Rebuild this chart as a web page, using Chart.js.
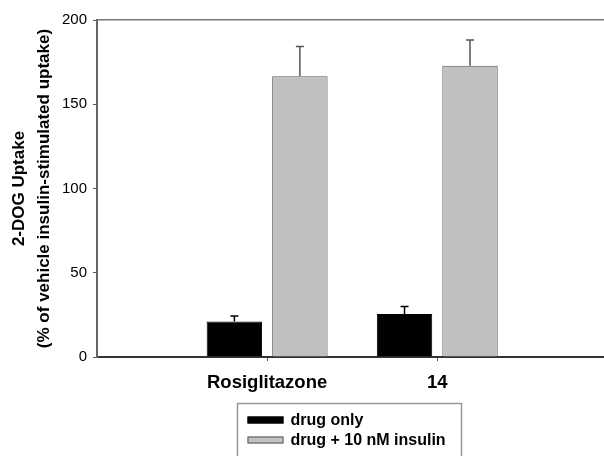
<!DOCTYPE html>
<html>
<head>
<meta charset="utf-8">
<script src="https://cdn.jsdelivr.net/npm/chart.js@4.4.0/dist/chart.umd.min.js"></script>
<style>
  html, body { margin: 0; padding: 0; background: #fff; }
  #wrap { width: 604px; height: 456px; position: relative; }
</style>
</head>
<body>
<div id="wrap"><canvas id="c" width="604" height="456"></canvas></div>
<script>
// ---- data ----
const categories = ['Rosiglitazone', '14'];
const seriesNames = ['drug only', 'drug + 10 nM insulin'];
const drugOnly = [21, 25.5];
const drugOnlyErr = [3.3, 4.5];
const drugInsulin = [166.6, 172.9];
const drugInsulinErr = [17.6, 15.2];
const yTicks = [0, 50, 100, 150, 200];
const yTitle = ['2-DOG Uptake', '(% of vehicle insulin-stimulated uptake)'];

const FONT = 'Liberation Sans, Arial, Helvetica, sans-serif';
Chart.defaults.font.family = FONT;
Chart.defaults.color = '#000';

const toPoints = (vals) => vals.map((v, i) => ({ x: i + 1, y: v }));

const errorBars = {
  id: 'errorBars',
  afterDatasetsDraw(chart) {
    const ctx = chart.ctx;
    const yScale = chart.scales.y;
    chart.data.datasets.forEach((ds, di) => {
      const meta = chart.getDatasetMeta(di);
      meta.data.forEach((bar, i) => {
        const v = ds.data[i].y;
        const e = ds.errors[i];
        const yTop = yScale.getPixelForValue(v + e);
        ctx.save();
        ctx.strokeStyle = ds.errorColor;
        ctx.lineWidth = 1.5;
        ctx.beginPath();
        ctx.moveTo(bar.x, bar.y);
        ctx.lineTo(bar.x, yTop);
        ctx.moveTo(bar.x - 4, yTop);
        ctx.lineTo(bar.x + 4, yTop);
        ctx.stroke();
        ctx.restore();
      });
    });
  }
};

const boxLegend = {
  id: 'boxLegend',
  afterDraw(chart) {
    const ctx = chart.ctx;
    const ca = chart.chartArea;
    const bw = 224;
    const bx = Math.round((ca.left + ca.right) / 2 - bw / 2) - 1.5;
    const by = chart.scales.x.bottom + 6.5;
    ctx.save();
    ctx.strokeStyle = '#999';
    ctx.lineWidth = 1.5;
    ctx.strokeRect(bx, by, bw, 80);
    chart.data.datasets.forEach((ds, i) => {
      const sy = by + 13 + i * 20;
      ctx.fillStyle = ds.backgroundColor;
      ctx.fillRect(bx + 10, sy, 36, 7);
      ctx.strokeStyle = ds.borderColor;
      ctx.lineWidth = 1;
      ctx.strokeRect(bx + 10.5, sy + 0.5, 35, 6);
      ctx.fillStyle = '#000';
      ctx.font = 'bold 16px ' + FONT;
      ctx.textBaseline = 'middle';
      ctx.textAlign = 'left';
      ctx.fillText(ds.label, bx + 53, sy + 4);
    });
    ctx.restore();
  }
};

new Chart(document.getElementById('c'), {
  type: 'bar',
  data: {
    datasets: [
      {
        label: seriesNames[0],
        data: toPoints(drugOnly),
        errors: drugOnlyErr,
        backgroundColor: '#000000',
        borderColor: '#000000',
        borderWidth: 1,
        errorColor: '#000',
        categoryPercentage: 0.77,
        barPercentage: 0.846
      },
      {
        label: seriesNames[1],
        data: toPoints(drugInsulin),
        errors: drugInsulinErr,
        backgroundColor: '#c0c0c0',
        borderColor: '#555555',
        borderWidth: 1,
        errorColor: '#555',
        categoryPercentage: 0.77,
        barPercentage: 0.846
      }
    ]
  },
  options: {
    responsive: false,
    animation: false,
    layout: { padding: { top: 20, right: 0, left: 0, bottom: 59 } },
    plugins: {
      legend: { display: false },
      tooltip: { enabled: false }
    },
    scales: {
      x: {
        type: 'linear',
        offset: false,
        min: 0,
        max: 2.98,
        afterBuildTicks(s) { s.ticks = categories.map((c, i) => ({ value: i + 1 })); },
        afterFit(s) { s.height = 40; },
        ticks: {
          autoSkip: false,
          maxRotation: 0,
          padding: 11,
          color: '#000',
          font: { size: 18.5, weight: 'bold' },
          callback: (v, i) => categories[i]
        },
        grid: { offset: false, drawOnChartArea: false, tickLength: 4, color: '#555', lineWidth: 1 },
        border: { color: '#333', width: 2 }
      },
      x2: {
        type: 'linear',
        position: 'top',
        offset: false,
        min: 0,
        max: 2.98,
        afterFit(s) { s.height = 0; },
        ticks: { display: false },
        grid: { display: false },
        border: { color: '#777', width: 1.5 }
      },
      y: {
        min: 0,
        max: 200,
        afterBuildTicks(s) { s.ticks = yTicks.map(v => ({ value: v })); },
        afterFit(s) { s.width = 97; },
        ticks: { color: '#000', font: { size: 15 }, padding: 6 },
        grid: { drawOnChartArea: false, tickLength: 4, color: '#555' },
        border: { color: '#666', width: 2 },
        title: {
          display: true,
          text: yTitle,
          color: '#000',
          font: { size: 17, weight: 'bold', lineHeight: 1.45 },
          padding: { top: 7, bottom: 0 }
        }
      }
    }
  },
  plugins: [errorBars, boxLegend]
});
</script>
</body>
</html>
